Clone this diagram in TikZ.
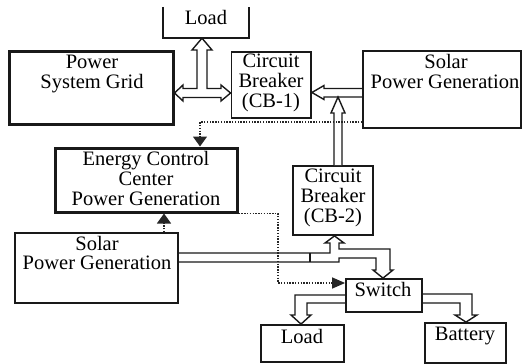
\documentclass[tikz,border=0pt]{standalone}
\usepackage{fontspec}
\setmainfont{Liberation Serif}
\usetikzlibrary{arrows.meta}
\begin{document}
\begin{tikzpicture}[x=1pt,y=-1pt,
  box/.style={draw=black!90, line width=1.8pt, inner sep=0pt, fill=white},
  thickbox/.style={box, line width=3pt},
  lbl/.style={anchor=base, inner sep=0pt, font=\fontsize{20.5}{20}\selectfont},
  blk/.style={draw=black!90, line width=1.4pt, line join=miter},
  dotline/.style={draw=black!85, line width=1.4pt, dash pattern=on 1.4pt off 1.4pt},
  tipA/.style={-{Triangle[length=10pt,width=14pt]}},
  tipB/.style={-{Triangle[length=13pt,width=11pt]}}
]
\useasboundingbox (0,0) rectangle (523,364);
\clip (0,0) rectangle (523,364);

% boxes
\node[inner sep=0pt, minimum width=86pt, minimum height=31pt] (loadT) at (206,22.5) {};
\draw[box, fill=none] (loadT.north west) -- (loadT.south west) -- (loadT.south east) -- (loadT.north east);
\node[thickbox, minimum width=163.5pt, minimum height=73pt] (grid) at (91.25,87.5) {};
\node[box, minimum width=79.5pt, minimum height=66pt] (cb1) at (271.25,85) {};
\node[box, minimum width=158pt, minimum height=77pt] (solarT) at (442,89.5) {};
\node[thickbox, minimum width=182pt, minimum height=64pt] (ecc) at (146,180) {};
\node[box, minimum width=163pt, minimum height=70pt] (solarB) at (96.5,268) {};
\node[box, minimum width=80pt, minimum height=69pt] (cb2) at (333,200.5) {};
\node[box, minimum width=76pt, minimum height=33pt] (switch) at (384,295.5) {};
\node[box, minimum width=83pt, minimum height=37pt] (loadB) at (302.5,343.5) {};
\node[box, minimum width=81pt, minimum height=40pt] (battery) at (465.5,343) {};

% texts
\node[lbl] (tLoadT) at (206,24) {Load};
\node[lbl] (tGrid1) at (92,68) {Power};
\node[lbl] (tGrid2) at (92,88) {System Grid};
\node[lbl] (tCb1a) at (271,67) {Circuit};
\node[lbl] (tCb1b) at (271,87) {Breaker};
\node[lbl] (tCb1c) at (271,107) {(CB-1)};
\node[lbl] (tSolT1) at (446,68) {Solar};
\node[lbl] (tSolT2) at (445,88) {Power Generation};
\node[lbl] (tEcc1) at (146,165) {Energy Control};
\node[lbl] (tEcc2) at (146,185) {Center};
\node[lbl] (tEcc3) at (146,205) {Power Generation};
\node[lbl] (tSolB1) at (97,250) {Solar};
\node[lbl] (tSolB2) at (97,269) {Power Generation};
\node[lbl] (tCb2a) at (333,182) {Circuit};
\node[lbl] (tCb2b) at (333,202) {Breaker};
\node[lbl] (tCb2c) at (333,222) {(CB-2)};
\node[lbl] (tSwitch) at (383,296) {Switch};
\node[lbl] (tLoadB) at (302,343) {Load};
\node[lbl] (tBatt) at (465,340) {Battery};

% T-shaped double block arrow: grid <-> cb1, up to loadT
\draw[blk, fill=white] (grid.east |- 0,93) -- (183,85) -- (183,88.5) -- (197,88.5) -- (197,50)
  -- (192,50) -- (202,0 |- loadT.south) -- (212,50) -- (207,50) -- (207,88.5)
  -- (221,88.5) -- (221,85) -- (cb1.west |- 0,93) -- (221,101) -- (221,97.5)
  -- (183,97.5) -- (183,101) -- cycle;

% solarT -> cb1
\draw[blk] (solarT.west |- 0,88.5) -- (324,88.5) -- (324,85.5) -- (cb1.east |- 0,92.5)
  -- (324,99.5) -- (324,97) -- (solarT.west |- 0,97);
% cb2 -> up into the solarT/cb1 shaft
\draw[blk, fill=white] (334,0 |- cb2.north) -- (334,113) -- (331,113) -- (338,97)
  -- (345,113) -- (342,113) -- (342,0 |- cb2.north);

% solarB -> cb2 and -> switch
\draw[blk] (solarB.east |- 0,253) -- (330,253) -- (330,243) -- (325,243) -- (334.5,0 |- cb2.south)
  -- (344,243) -- (339,243) -- (339,249) -- (390,249) -- (390,270) -- (393,270)
  -- (383,0 |- switch.north) -- (373,270) -- (376,270) -- (376,258) -- (339,258)
  -- (339,262) -- (solarB.east |- 0,262);
\draw[blk] (310,253) -- (310,262);

% switch -> loadB
\draw[blk] (switch.west |- 0,295) -- (295,295) -- (295,315) -- (291,315) -- (301,0 |- loadB.north)
  -- (311,315) -- (307,315) -- (307,303) -- (switch.west |- 0,303);
% switch -> battery
\draw[blk] (switch.east |- 0,294) -- (472,294) -- (472,315) -- (477,315) -- (466,0 |- battery.north)
  -- (455,315) -- (460,315) -- (460,303) -- (switch.east |- 0,303);

% dotted control lines
\draw[dotline, tipA] (solarT.west |- 0,122) -| (200,0 |- ecc.north);
\draw[dotline, tipB] (ecc.south east) -| (278,283) -- (switch.west |- 0,283);
\draw[dotline, tipA] (164,0 |- solarB.north) -- (164,0 |- ecc.south);
\end{tikzpicture}
\end{document}
